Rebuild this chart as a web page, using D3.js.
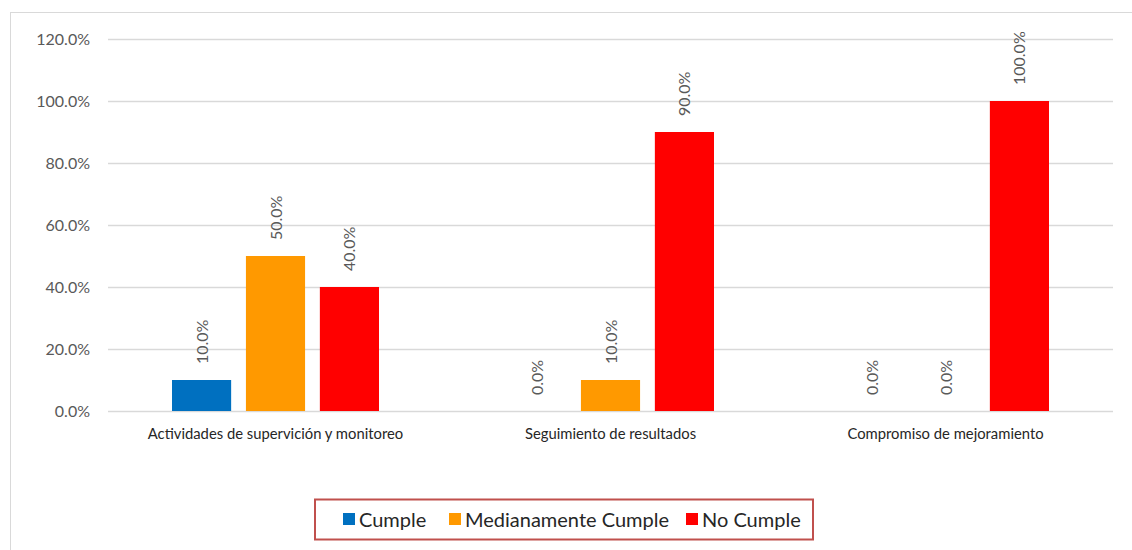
<!DOCTYPE html>
<html>
<head>
<meta charset="utf-8">
<script src="https://cdn.jsdelivr.net/npm/d3@7"></script>
<style>
  body { margin: 0; background: #fff; }
  svg text { font-family: Lato, "Open Sans", sans-serif; }
</style>
</head>
<body>
<svg id="chart" width="1132" height="550"></svg>
<script>
var categories = ['Actividades de supervición y monitoreo', 'Seguimiento de resultados', 'Compromiso de mejoramiento']
var seriesNames = ['Cumple', 'Medianamente Cumple', 'No Cumple']
var seriesColors = ['#0070c0', '#ff9900', '#ff0000']
var cumple = [0.10, 0.0, 0.0]
var medianamente = [0.50, 0.10, 0.0]
var noCumple = [0.40, 0.90, 1.00]
var yTicks = [0, 0.2, 0.4, 0.6, 0.8, 1.0, 1.2]

var series = [cumple, medianamente, noCumple]

svg = d3.select('#chart')

// outer chart border
svg.append('rect')
  .attr('x', 10.5).attr('y', 12.5)
  .attr('width', 1130).attr('height', 545)
  .style('fill', 'none')
  .style('stroke', '#d9d9d9')

var margin = {left: 108, right: 1113, top: 39, bottom: 411}

var x = d3.scaleBand()
  .domain(categories)
  .range([margin.left, margin.right])

var xInner = d3.scaleBand()
  .domain(seriesNames)
  .range([0, 207])
  .paddingInner(0.2)

var y = d3.scaleLinear()
  .domain([0, 1.2])
  .range([margin.bottom, margin.top])

var fmt = d3.format('.1%')

// gridlines + y axis
var yAxis = svg.append('g')
  .attr('transform', 'translate(' + margin.left + ',0)')
  .call(d3.axisLeft(y).tickValues(yTicks).tickFormat(fmt).tickSize(-(margin.right - margin.left)).tickPadding(18))
yAxis.select('.domain').remove()
yAxis.selectAll('line').style('stroke', '#d9d9d9').style('stroke-width', 1.3)
yAxis.selectAll('text').style('fill', '#595959').style('font-size', '16px')

// bars
var groups = svg.selectAll('.grp')
  .data(categories)
  .enter().append('g')
  .attr('class', 'grp')
  .attr('transform', function(d){ return 'translate(' + (x(d) + x.bandwidth()/2 - 103.5) + ',0)' })

groups.each(function(cat, ci){
  var g = d3.select(this)
  seriesNames.forEach(function(s, si){
    var v = series[si][ci]
    g.append('rect')
      .attr('x', xInner(s))
      .attr('y', y(v))
      .attr('width', xInner.bandwidth())
      .attr('height', y(0) - y(v))
      .style('fill', seriesColors[si])
    var cx = xInner(s) + xInner.bandwidth()/2
    g.append('text')
      .attr('transform', 'translate(' + (cx + 6) + ',' + (y(v) - 16) + ') rotate(-90)')
      .attr('text-anchor', 'start')
      .style('font-size', '16px')
      .style('fill', '#595959')
      .text(fmt(v))
  })
})

// category labels
svg.selectAll('.cat')
  .data(categories)
  .enter().append('text')
  .attr('class', 'cat')
  .attr('x', function(d){ return x(d) + x.bandwidth()/2 })
  .attr('y', 439)
  .attr('text-anchor', 'middle')
  .style('font-size', '14.8px')
  .style('fill', '#262626')
  .text(function(d){ return d })

// legend
var legend = svg.append('g')
legend.append('rect')
  .attr('x', 315).attr('y', 499.5)
  .attr('width', 498).attr('height', 40)
  .style('fill', '#fff')
  .style('stroke', '#c0504d')
  .style('stroke-width', 2)

var legendX = [343, 449, 686]
seriesNames.forEach(function(s, i){
  legend.append('rect')
    .attr('x', legendX[i]).attr('y', 513)
    .attr('width', 12).attr('height', 12)
    .style('fill', seriesColors[i])
  legend.append('text')
    .attr('x', legendX[i] + 16).attr('y', 526.5)
    .style('font-size', '20px')
    .style('fill', '#262626')
    .text(s)
})
</script>
</body>
</html>
